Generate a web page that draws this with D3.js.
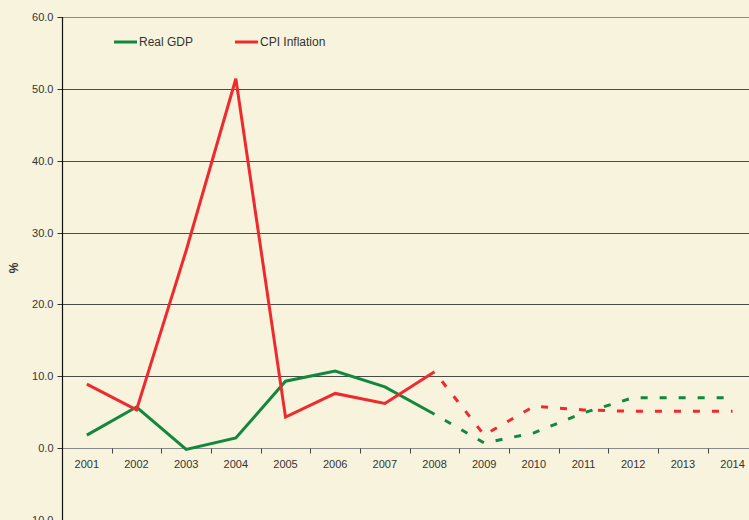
<!DOCTYPE html>
<html>
<head>
<meta charset="utf-8">
<script src="https://cdn.jsdelivr.net/npm/d3@7"></script>
<style>
  html, body { margin: 0; padding: 0; background: #F8F3DC; }
  svg { display: block; }
  text { font-family: "Liberation Sans", Arial, sans-serif; }
</style>
</head>
<body>
<svg id="chart" width="749" height="520"></svg>
<script>
const years = ["2001","2002","2003","2004","2005","2006","2007","2008","2009","2010","2011","2012","2013","2014"];
const realGDP = [1.8, 5.7, -0.2, 1.4, 9.3, 10.7, 8.5, 4.7, 0.7, 2.1, 4.9, 7.0, 7.0, 7.0];
const cpiInflation = [8.9, 5.3, 27.5, 51.4, 4.3, 7.6, 6.2, 10.6, 1.8, 5.8, 5.3, 5.1, 5.1, 5.1];
const yTicks = [-10, 0, 10, 20, 30, 40, 50, 60];
const lastActual = "2008";
const seriesNames = ["Real GDP", "CPI Inflation"];
const seriesColors = ["#12873F", "#EE2A2F"];

(function () {
const W = 749, H = 520;
const plotLeft = 62, plotTop = 17, zeroY = 448;
const svg = d3.select("#chart");
svg.append("rect").attr("width", W).attr("height", H).attr("fill", "#F8F3DC");

const x = d3.scaleBand().domain(years).range([plotLeft, plotLeft + 14 * 49.67]).padding(0);
const y = d3.scaleLinear().domain([0, 60]).range([zeroY, plotTop]);

// grid lines
svg.append("g").selectAll("line").data(yTicks).join("line")
  .attr("x1", plotLeft).attr("x2", W)
  .attr("y1", d => Math.round(y(d)) + 0.5).attr("y2", d => Math.round(y(d)) + 0.5)
  .attr("stroke", d => (d === 60 || d === -10 || d === 0) ? "#8a8a8a" : "#4a4a4a")
  .attr("stroke-width", 1);

// y axis
const yAxis = d3.axisLeft(y).tickValues(yTicks).tickFormat(d3.format(".1f")).tickSize(5).tickPadding(4);
const gy = svg.append("g").attr("transform", `translate(${plotLeft + 0.5},0)`).call(yAxis);
gy.select(".domain").remove();
gy.selectAll(".tick line").attr("stroke", "#333");
gy.selectAll(".tick").attr("transform", d => `translate(0,${Math.round(y(d)) + 0.5})`);
gy.selectAll("text").attr("fill", "#333").style("font-size", "11px").attr("dy", "0.35em");
svg.append("line").attr("x1", plotLeft + 0.5).attr("x2", plotLeft + 0.5).attr("y1", plotTop).attr("y2", H)
  .attr("stroke", "#111").attr("stroke-width", 1.2);

// x axis (ticks between categories)
const gx = svg.append("g").attr("transform", `translate(0,${Math.round(zeroY) + 0.5})`);
const boundaries = years.map(d => x(d) + x.bandwidth()).slice(0, -1);
gx.selectAll("line").data(boundaries).join("line")
  .attr("x1", d => Math.round(d) + 0.5).attr("x2", d => Math.round(d) + 0.5)
  .attr("y1", 0).attr("y2", 5).attr("stroke", "#444");
gx.selectAll("text").data(years).join("text")
  .attr("x", d => x(d) + x.bandwidth() / 2).attr("y", 19)
  .attr("text-anchor", "middle").attr("fill", "#333").style("font-size", "11px").text(d => d);

// y label
svg.append("text").attr("transform", "translate(18,268) rotate(-90)")
  .attr("text-anchor", "middle").attr("fill", "#333").style("font-size", "12px").style("font-weight", "bold").text("%");

// lines
const cx = d => x(d) + x.bandwidth() / 2;
const line = d3.line().x(d => cx(d[0])).y(d => y(d[1]));
const cut = years.indexOf(lastActual);
[realGDP, cpiInflation].forEach((vals, k) => {
  const pts = years.map((yr, i) => [yr, vals[i]]);
  svg.append("path").datum(pts.slice(0, cut + 1)).attr("d", line)
    .attr("fill", "none").attr("stroke", seriesColors[k]).attr("stroke-width", 3).attr("stroke-linejoin", "miter");
  svg.append("path").datum(pts.slice(cut)).attr("d", line)
    .attr("fill", "none").attr("stroke", seriesColors[k]).attr("stroke-width", 3)
    .attr("stroke-dasharray", "7,12").attr("stroke-dashoffset", -12);
});

// legend
const legendX = [114, 235];
seriesNames.forEach((n, k) => {
  svg.append("line").attr("x1", legendX[k]).attr("x2", legendX[k] + 23).attr("y1", 42).attr("y2", 42)
    .attr("stroke", seriesColors[k]).attr("stroke-width", 3);
  svg.append("text").attr("x", legendX[k] + 25).attr("y", 46).attr("fill", "#333")
    .style("font-size", "12px").text(n);
});
})();
</script>
</body>
</html>
